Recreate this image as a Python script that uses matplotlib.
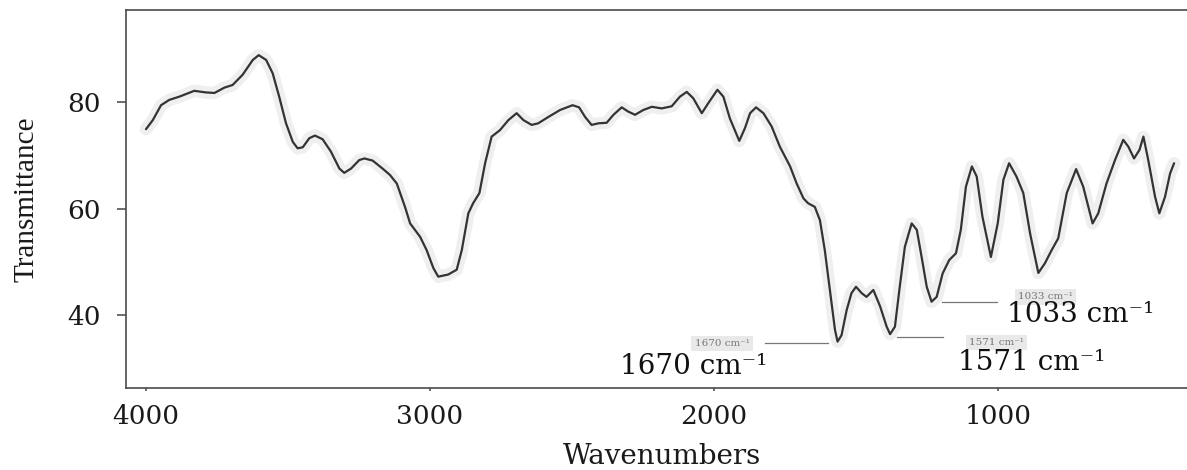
import matplotlib
matplotlib.use("Agg")
import matplotlib.pyplot as plt

# ---- data ----
wavenumber = [4000, 3976, 3947, 3918, 3883, 3830, 3789, 3759, 3724, 3695, 3660, 3624, 3603, 3577,
              3554, 3531, 3507, 3483, 3466, 3448, 3425, 3405, 3378, 3349, 3319, 3302, 3278, 3249,
              3231, 3202, 3167, 3141, 3117, 3088, 3070, 3035, 3012, 2988, 2971, 2936, 2906, 2888,
              2865, 2848, 2826, 2806, 2783, 2754, 2724, 2695, 2671, 2642, 2619, 2583, 2542, 2498,
              2475, 2454, 2431, 2407, 2378, 2354, 2325, 2302, 2278, 2249, 2219, 2184, 2149, 2120,
              2096, 2073, 2043, 2020, 1988, 1967, 1944, 1911, 1891, 1873, 1852, 1826, 1797, 1768,
              1732, 1709, 1685, 1669, 1645, 1627, 1610, 1592, 1574, 1565, 1551, 1533, 1516, 1500,
              1480, 1463, 1439, 1415, 1392, 1380, 1363, 1346, 1328, 1304, 1286, 1269, 1251, 1234,
              1216, 1195, 1172, 1148, 1131, 1113, 1092, 1075, 1055, 1025, 1001, 981, 961, 935,
              911, 887, 858, 835, 811, 788, 758, 725, 700, 667, 647, 618, 588, 559, 541, 521,
              502, 488, 471, 447, 432, 412, 394, 380]
transmittance = [74.9, 76.6, 79.4, 80.4, 81.0, 82.1, 81.8, 81.7, 82.7, 83.2, 85.1, 87.9, 88.8, 87.9,
                 85.4, 81.0, 76.0, 72.5, 71.3, 71.5, 73.2, 73.7, 73.0, 70.7, 67.5, 66.7, 67.5, 69.1,
                 69.4, 69.0, 67.5, 66.3, 64.7, 60.3, 57.2, 54.7, 52.2, 48.8, 47.2, 47.6, 48.5, 52.2,
                 59.1, 61.0, 62.9, 68.5, 73.5, 74.7, 76.6, 77.9, 76.6, 75.7, 76.0, 77.2, 78.5, 79.4,
                 79.0, 77.2, 75.7, 76.0, 76.1, 77.6, 79.0, 78.2, 77.6, 78.5, 79.1, 78.8, 79.2, 81.0,
                 81.9, 80.7, 77.9, 79.8, 82.3, 81.0, 76.9, 72.7, 75.1, 77.9, 79.0, 77.9, 75.4, 71.6,
                 67.9, 64.7, 61.9, 61.0, 60.3, 57.8, 52.2, 44.7, 37.2, 35.0, 36.2, 40.9, 44.1, 45.3,
                 44.1, 43.4, 44.7, 41.6, 37.8, 36.4, 37.8, 45.3, 52.8, 57.2, 56.0, 50.9, 45.3, 42.5,
                 43.4, 47.8, 50.3, 51.6, 56.0, 64.1, 67.9, 66.0, 58.5, 50.9, 57.2, 65.4, 68.5, 66.0,
                 62.9, 55.3, 47.9, 49.7, 52.2, 54.4, 62.9, 67.4, 64.1, 57.2, 59.1, 64.7, 69.1, 72.9,
                 71.6, 69.4, 71.0, 73.5, 69.1, 62.2, 59.1, 62.2, 66.6, 68.5]

x_ticks = [4000, 3000, 2000, 1000]
y_ticks = [40, 60, 80]
peak_labels = ["1670 cm\u207b\u00b9", "1571 cm\u207b\u00b9", "1033 cm\u207b\u00b9"]

SERIF = "DejaVu Serif"

fig = plt.figure(figsize=(11.87, 4.70), dpi=100)
W, H = 1187.0, 470.0
ax = fig.add_axes([126 / W, 1 - 388 / H, (1190 - 126) / W, 378 / H])

# faint grey halo around the trace (as in the scanned reference)
ax.plot(wavenumber, transmittance, color="#efefef", lw=9, solid_capstyle="round",
        solid_joinstyle="round", zorder=1)
ax.plot(wavenumber, transmittance, color="#333333", lw=1.6, solid_joinstyle="round",
        solid_capstyle="round", zorder=3)

ax.set_xlim(4070.4, 324)
ax.set_ylim(26.29, 97.28)
ax.set_xticks(x_ticks)
ax.set_yticks(y_ticks)
ax.set_xticklabels([str(v) for v in x_ticks], fontfamily=SERIF, fontsize=19, color="#1a1a1a")
ax.set_yticklabels([str(v) for v in y_ticks], fontfamily=SERIF, fontsize=19, color="#1a1a1a")
ax.tick_params(axis="y", direction="out", length=6.5, width=1.1, color="#444444", pad=12)
ax.tick_params(axis="x", direction="out", length=2.5, width=1.1, color="#444444", pad=9)

for side in ("left", "bottom", "top"):
    ax.spines[side].set_color("#4a4a4a")
    ax.spines[side].set_linewidth(1.2)
ax.spines["right"].set_visible(False)

ax.set_xlabel("Wavenumbers", fontfamily=SERIF, fontsize=20, color="#1a1a1a", va="center")
ax.xaxis.set_label_coords(0.504, -0.180)
ax.set_ylabel("Transmittance", fontfamily="Liberation Serif", fontsize=21, color="#1a1a1a",
              va="center")
ax.yaxis.set_label_coords(-0.0935, 0.5)

# peak annotations: small label + leader line, and large label
small_kw = dict(fontfamily=SERIF, fontsize=7.5, color="#777777", ha="center", va="center",
                bbox=dict(boxstyle="square,pad=0.3", fc="#e9e9e9", ec="none"), zorder=2)
big_kw = dict(fontfamily=SERIF, fontsize=20, color="#111111", ha="center", va="center", zorder=4)

# 1670
ax.text(1972, 34.7, peak_labels[0], **small_kw)
ax.plot([1820, 1599], [34.7, 34.7], color="#777777", lw=0.9, zorder=2)
ax.text(2070, 30.4, peak_labels[0], **big_kw)
# 1571
ax.text(1004, 34.9, peak_labels[1], **small_kw)
ax.plot([1356, 1194], [35.9, 35.9], color="#777777", lw=0.9, zorder=2)
ax.text(880, 31.0, peak_labels[1], **big_kw)
# 1033
ax.text(834, 43.4, peak_labels[2], **small_kw)
ax.plot([1197, 1004], [42.4, 42.4], color="#777777", lw=0.9, zorder=2)
ax.text(708, 40.0, peak_labels[2], **big_kw)

fig.savefig("out.png", dpi=100)
